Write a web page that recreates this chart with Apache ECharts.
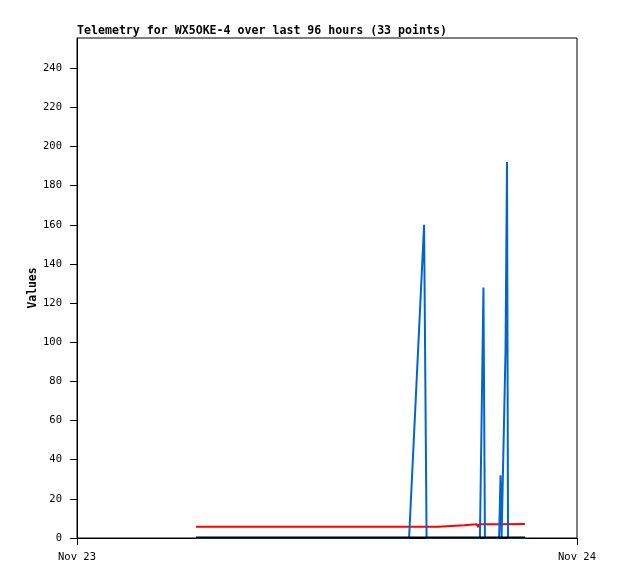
<!DOCTYPE html>
<html>
<head>
<meta charset="utf-8">
<script src="https://cdn.jsdelivr.net/npm/echarts@6/dist/echarts.min.js"></script>
<style>
  html, body { margin: 0; padding: 0; background: #fff; }
  #chart { width: 618px; height: 579px; }
</style>
</head>
<body>
<div id="chart"></div>
<script>
// hours after Nov 23 00:00
var blueHours = [5.71, 15.94, 16.66, 16.78, 19.34, 19.51, 19.58, 20.26, 20.33, 20.38, 20.45, 20.57, 20.64, 20.69, 21.5];
var blueValues = [0, 0, 160, 0, 0, 128, 0, 0, 32, 0, 0, 96, 192, 0, 0];

var redHours = [5.71, 17.33, 17.34, 18.58, 18.59, 19.2, 19.25, 19.3, 20.21, 20.22, 21.5];
var redValues = [5.8, 5.8, 6.5, 6.5, 7.0, 7.0, 5.5, 7.0, 7.0, 7.2, 7.2];

var blackHours = [5.71, 21.5];
var blackValues = [0.3, 0.3];

var yTicks = [0, 20, 40, 60, 80, 100, 120, 140, 160, 180, 200, 220, 240];
var xTicks = [0, 24];
var xLabels = ['Nov 23', 'Nov 24'];

function pairs(xs, ys) {
  return xs.map(function (x, i) { return [x, ys[i]]; });
}

var myChart = echarts.init(document.getElementById('chart'));
var mono = 'DejaVu Sans Mono';

var option = {
  backgroundColor: '#fff',
  animation: false,
  title: {
    text: 'Telemetry for WX5OKE-4 over last 96 hours (33 points)',
    left: 77,
    top: 25,
    padding: 0,
    textStyle: { fontFamily: mono, fontSize: 11.6, fontWeight: 'bold', color: '#000' }
  },
  grid: {
    left: 77,
    right: 41,
    top: 38,
    bottom: 41,
    show: true,
    borderColor: '#000',
    borderWidth: 1
  },
  xAxis: {
    type: 'value',
    min: 0,
    max: 24,
    interval: 24,
    axisLine: { show: true, lineStyle: { color: '#000', width: 1 } },
    axisTick: { show: true, length: 7, lineStyle: { color: '#000' }, customValues: xTicks },
    splitLine: { show: false },
    axisLabel: {
      customValues: xTicks,
      margin: 14,
      color: '#000',
      fontFamily: mono,
      fontSize: 10.5,
      formatter: function (v) { return xLabels[xTicks.indexOf(v)]; }
    }
  },
  yAxis: {
    type: 'value',
    min: 0,
    max: 255.4,
    name: 'Values',
    nameLocation: 'middle',
    nameGap: 38,
    nameMoveOverlap: false,
    nameTextStyle: { fontFamily: mono, fontSize: 11.4, fontWeight: 'bold', color: '#000' },
    axisLine: { show: true, lineStyle: { color: '#000', width: 1 } },
    axisTick: { show: true, length: 7, lineStyle: { color: '#000' }, customValues: yTicks },
    splitLine: { show: false },
    axisLabel: {
      customValues: yTicks,
      margin: 15,
      color: '#000',
      fontFamily: mono,
      fontSize: 10.5
    }
  },
  series: [
    {
      name: 'red',
      type: 'line',
      symbol: 'none',
      lineStyle: { color: '#ff0000', width: 2 },
      data: pairs(redHours, redValues)
    },
    {
      name: 'blue',
      type: 'line',
      symbol: 'none',
      lineStyle: { color: '#0066cc', width: 2 },
      data: pairs(blueHours, blueValues)
    },
    {
      name: 'black',
      type: 'line',
      symbol: 'none',
      lineStyle: { color: '#000', width: 2 },
      data: pairs(blackHours, blackValues)
    }
  ]
};

myChart.setOption(option);
</script>
</body>
</html>
